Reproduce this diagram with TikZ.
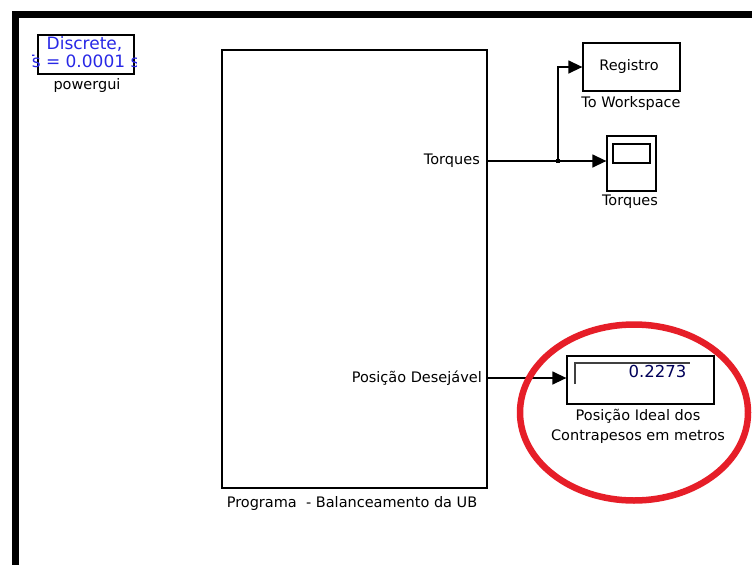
\documentclass[tikz,border=0pt]{standalone}
\usepackage{fontspec}
\setmainfont{DejaVu Sans}
\usetikzlibrary{arrows.meta}
\definecolor{simblue}{RGB}{40,40,230}
\definecolor{circred}{RGB}{230,30,40}
\tikzset{
  blk/.style={draw=black, line width=1.3pt, fill=white},
  lbl/.style={font=\fontsize{14.5}{16}\selectfont, inner sep=0pt},
  sig/.style={line width=1.4pt, -{Triangle[length=14pt,width=13pt]}},
  wire/.style={line width=1.4pt},
}
\begin{document}
\begin{tikzpicture}[x=1pt,y=-1pt]
\useasboundingbox (0,0) rectangle (752,565);
\fill[white] (0,0) rectangle (752,565);
% model window frame
\fill[black] (12,11) rectangle (752,18);
\fill[black] (12,11) rectangle (19,565);

% powergui block
\node[blk, line width=1.3pt, minimum width=96pt, minimum height=39pt, inner sep=0pt] (pg) at (86,54.5) {};
\begin{scope}
\clip (32,34) rectangle (136.5,75);
\node[font=\fontsize{17}{19}\selectfont, text=simblue, inner sep=0pt] (pg1) at (84.5,44) {Discrete,};
\node[font=\fontsize{17}{19}\selectfont, text=simblue, inner sep=0pt, anchor=base west] (pg2) at (24,67.5) {Ts = 0.0001 s.};
\end{scope}
\node[lbl] (pgl) at (87,85) {powergui};

% subsystem block
\node[blk, minimum width=265pt, minimum height=438pt, inner sep=0pt] (sub) at (354.5,269) {};
\node[lbl] (subl) at (352,503) {Programa\ \ - Balanceamento da UB};
\node[lbl, anchor=east] (p1) at (480,161) {Torques};
\node[lbl, anchor=east] (p2) at (482,378) {Posição Desejável};
\coordinate (o1) at (487,161);
\coordinate (o2) at (487,378);

% To Workspace block
\node[blk, minimum width=97pt, minimum height=48pt, inner sep=0pt] (ws) at (631.5,67) {};
\node[lbl] (wst) at (629,66) {Registro};
\node[lbl] (wsl) at (631,103) {To Workspace};

% Scope block
\node[blk, minimum width=49pt, minimum height=55pt, inner sep=0pt] (sc) at (631.5,163.5) {};
\draw[line width=1.3pt] (613,144) rectangle (650,163);
\node[lbl] (scl) at (630,202) {Torques};

% Display block
\node[blk, minimum width=147pt, minimum height=48pt, inner sep=0pt] (dp) at (640.5,380) {};
\draw[line width=1.3pt, draw=black!75] (575,384) -- (575,363) -- (690,363);
\node[font=\fontsize{16.5}{18}\selectfont, inner sep=0pt, text=black!65!blue] (dpv) at (657.5,371) {0.2273};
\node[lbl] (dpl1) at (638,416) {Posição Ideal dos};
\node[lbl] (dpl2) at (638,437) {Contrapesos em metros};

% signal lines
\coordinate (br) at (558,161);
\draw[wire] (o1) -- (br);
\draw[sig] (br) -- (br -| sc.west);
\draw[sig] (br) |- (ws.west);
\fill (br) ++(-2,-2) rectangle +(4,4);
\draw[sig] (o2) -- (o2 -| dp.west);

% highlight ring
\draw[circred, line width=6.5pt] (634,412.5) ellipse (114pt and 88pt);
\end{tikzpicture}
\end{document}
